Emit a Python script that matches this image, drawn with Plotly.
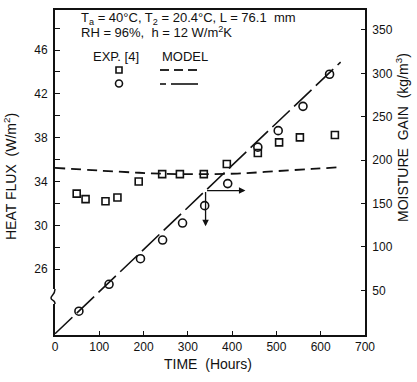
import plotly.graph_objects as go

# ---- data ----
hf_time = [49, 69, 114, 141, 189, 242, 282, 336, 388, 458, 506, 553, 632]
hf_exp = [32.9, 32.4, 32.2, 32.55, 34.0, 34.68, 34.68, 34.68, 35.6, 36.6, 37.57, 38.03, 38.24]

mg_time = [54, 122, 193, 243, 288, 338, 390, 458, 504, 560, 620]
mg_exp = [26, 57, 86.5, 108, 127.6, 147.6, 173, 215, 234, 262, 299]

hf_model_time = [0, 100, 190, 250, 300, 350, 420, 500, 580, 640]
hf_model = [35.25, 35.0, 34.8, 34.7, 34.68, 34.68, 34.74, 34.95, 35.15, 35.3]

mg_model_time = [0, 645]
mg_model = [0, 313]

x_ticks = [0, 100, 200, 300, 400, 500, 600, 700]
hf_ticks = [26, 28, 30, 32, 34, 36, 38, 40, 42, 44, 46, 48]
hf_labels = ["26", "", "30", "", "34", "", "38", "", "42", "", "46", ""]
mg_ticks = [50, 100, 150, 200, 250, 300, 350]

FONT = "Liberation Sans, Arial, Helvetica, sans-serif"
BLACK = "#111111"

# plot area in pixels
L, R, T, B = 55, 365, 10, 335
W, H = 417, 382
pw, ph = float(R - L), float(B - T)


def px(xp):
    return (xp - L) / pw


def py(yp):
    return (B - yp) / ph


fig = go.Figure()
fig.add_trace(go.Scatter(x=hf_model_time, y=hf_model, mode="lines",
                         line=dict(color=BLACK, width=1.8, dash="10px,6px", shape="spline"),
                         yaxis="y", showlegend=False, hoverinfo="skip"))
fig.add_trace(go.Scatter(x=mg_model_time, y=mg_model, mode="lines",
                         line=dict(color=BLACK, width=1.6, dash="24px,6px"),
                         yaxis="y2", showlegend=False, hoverinfo="skip"))
fig.add_trace(go.Scatter(x=hf_time, y=hf_exp, mode="markers",
                         marker=dict(symbol="square-open", size=7, color=BLACK, line=dict(width=1.6)),
                         yaxis="y", showlegend=False, hoverinfo="skip"))
fig.add_trace(go.Scatter(x=mg_time, y=mg_exp, mode="markers",
                         marker=dict(symbol="circle-open", size=8, color=BLACK, line=dict(width=1.6)),
                         yaxis="y2", showlegend=False, hoverinfo="skip"))

# arrows at the reference point on the model line
slope = mg_model[1] / mg_model_time[1]
fig.add_annotation(x=430, y=slope * 340, xref="x", yref="y2",
                   ax=340, ay=slope * 340, axref="x", ayref="y2",
                   showarrow=True, arrowhead=2, arrowsize=1, arrowwidth=1.3, arrowcolor=BLACK, text="")
fig.add_annotation(x=340, y=124, xref="x", yref="y2",
                   ax=340, ay=slope * 340, axref="x", ayref="y2",
                   showarrow=True, arrowhead=2, arrowsize=1, arrowwidth=1.3, arrowcolor=BLACK, text="")

txt = dict(family=FONT, size=13, color=BLACK)
# header text
fig.add_annotation(x=px(79), y=py(19), xref="paper", yref="paper", xanchor="left", yanchor="middle",
                   text="T<sub>a</sub> = 40°C, T<sub>2</sub> = 20.4°C, L = 76.1  mm",
                   showarrow=False, font=txt)
fig.add_annotation(x=px(79), y=py(32), xref="paper", yref="paper", xanchor="left", yanchor="middle",
                   text="RH = 96%,  h = 12 W/m<sup>2</sup>K",
                   showarrow=False, font=txt)
fig.add_annotation(x=px(91), y=py(57), xref="paper", yref="paper", xanchor="left", yanchor="middle",
                   text="EXP. [4]", showarrow=False, font=txt)
fig.add_annotation(x=px(160), y=py(57), xref="paper", yref="paper", xanchor="left", yanchor="middle",
                   text="MODEL", showarrow=False, font=txt)

# axis titles
title_font = dict(family=FONT, size=14, color=BLACK)
fig.add_annotation(x=px(208), y=py(364), xref="paper", yref="paper", xanchor="center", yanchor="middle",
                   text="TIME  (Hours)", showarrow=False, font=title_font)
fig.add_annotation(x=px(10), y=py(177), xref="paper", yref="paper", xanchor="center", yanchor="middle",
                   text="HEAT FLUX  (W/m<sup>2</sup>)", textangle=-90, showarrow=False, font=title_font)
fig.add_annotation(x=px(402), y=py(138), xref="paper", yref="paper", xanchor="center", yanchor="middle",
                   text="MOISTURE  GAIN  (kg/m<sup>3</sup>)", textangle=-90, showarrow=False, font=title_font)

# legend symbols
fig.add_shape(type="rect", x0=px(116), x1=px(122), y0=py(73), y1=py(67), xref="paper", yref="paper",
              line=dict(color=BLACK, width=1.6))
fig.add_shape(type="circle", x0=px(115.5), x1=px(122.5), y0=py(87), y1=py(80), xref="paper", yref="paper",
              line=dict(color=BLACK, width=1.6))
for a, b in [(160, 169), (174, 183), (188, 197)]:
    fig.add_shape(type="line", x0=px(a), x1=px(b), y0=py(70), y1=py(70), xref="paper", yref="paper",
                  line=dict(color=BLACK, width=1.8))
for a, b in [(160, 166), (171, 198)]:
    fig.add_shape(type="line", x0=px(a), x1=px(b), y0=py(84), y1=py(84), xref="paper", yref="paper",
                  line=dict(color=BLACK, width=1.6))

# axis break symbol on left axis
fig.add_shape(type="rect", x0=px(53), x1=px(57), y0=py(304), y1=py(289), xref="paper", yref="paper",
              line=dict(width=0), fillcolor="white", layer="above")
fig.add_shape(type="path",
              path=f"M {px(55)},{py(289)} C {px(55)},{py(295)} {px(51)},{py(295)} {px(51)},{py(298)} "
                   f"C {px(51)},{py(301)} {px(55)},{py(299)} {px(55)},{py(304)}",
              xref="paper", yref="paper", line=dict(color=BLACK, width=1.5), layer="above")

axis_common = dict(showgrid=False, zeroline=False, showline=True, linecolor=BLACK, linewidth=1.8,
                   ticks="inside", tickcolor=BLACK, tickwidth=1.3, automargin=False,
                   tickfont=dict(family=FONT, size=12, color=BLACK))

fig.update_layout(
    width=W, height=H,
    margin=dict(l=L, r=W - R, t=T, b=H - B),
    paper_bgcolor="white", plot_bgcolor="white",
    font=dict(family=FONT, color=BLACK),
    hovermode=False,
    xaxis=dict(range=[0, 700], tickvals=x_ticks, ticklen=4, mirror=True, **axis_common),
    yaxis=dict(range=[20.0, 49.65], tickvals=hf_ticks, ticktext=hf_labels, ticklen=5,
               ticklabelstandoff=3, **axis_common),
    yaxis2=dict(range=[-1.4, 373], tickvals=mg_ticks, ticklen=4, overlaying="y", side="right",
                ticklabelstandoff=3, **axis_common),
)

fig.write_html("out.html", config={"displayModeBar": False},
               post_script="document.body.style.margin='0';document.body.style.overflow='hidden';")
